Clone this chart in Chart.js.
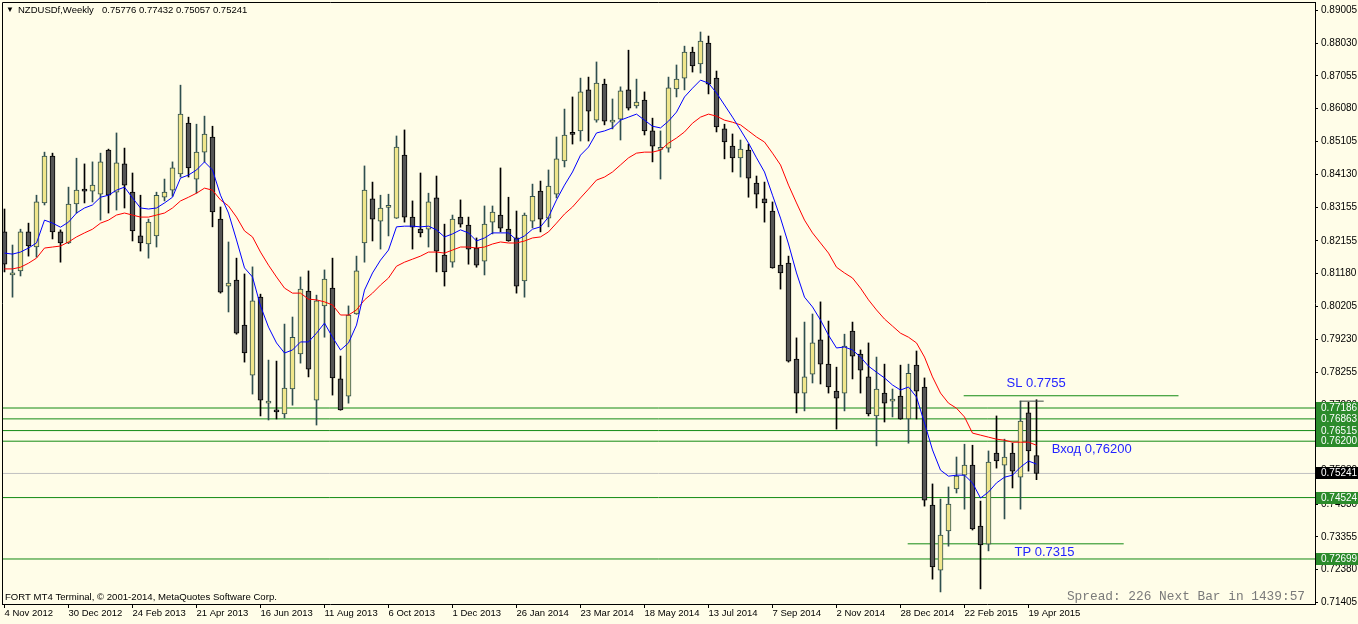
<!DOCTYPE html>
<html>
<head>
<meta charset="utf-8">
<script src="https://cdn.jsdelivr.net/npm/chart.js@4/dist/chart.umd.min.js"></script>
<style>
html, body { margin: 0; padding: 0; background: #FFFDE8; }
#box { width: 1358px; height: 624px; }
</style>
</head>
<body>
<div id="box"><canvas id="chart" width="1358" height="624"></canvas></div>
<script>
// NZDUSDf weekly, 4 Nov 2012 .. 26 Apr 2015 (130 bars)
var opens = [0.8242,0.8114,0.8126,0.8242,0.8197,0.8328,0.8467,0.8242,0.8209,0.8325,
 0.8366,0.8363,0.8354,0.8485,0.8360,0.8444,0.8360,0.8230,0.8206,0.8230,
 0.8345,0.8366,0.8414,0.8565,0.8399,0.8479,0.8524,0.8280,0.8081,0.8099,
 0.7965,0.7816,0.8048,0.7733,0.7710,0.7701,0.7775,0.7879,0.8066,0.7742,
 0.8022,0.8075,0.7805,0.7754,0.7998,0.8209,0.8340,0.8274,0.8315,0.8283,
 0.8470,0.8286,0.8250,0.8250,0.8343,0.8173,0.8152,0.8286,0.8262,0.8194,
 0.8155,0.8271,0.8292,0.8250,0.8224,0.8096,0.8274,0.8363,0.8283,0.8354,
 0.8453,0.8534,0.8542,0.8664,0.8574,0.8681,0.8568,0.8577,0.8664,0.8616,
 0.8634,0.8542,0.8487,0.8491,0.8667,0.8699,0.8776,0.8741,0.8803,0.8699,
 0.8548,0.8497,0.8462,0.8485,0.8387,0.8340,0.8304,0.8143,0.8149,0.7864,
 0.7763,0.7819,0.7921,0.7849,0.7769,0.7763,0.7947,0.7879,0.7811,0.7695,
 0.7763,0.7739,0.7754,0.7686,0.7846,0.7781,0.7430,0.7237,0.7353,0.7478,
 0.7519,0.7549,0.7368,0.7314,0.7585,0.7549,0.7585,0.7513,0.7704,0.75776];
var highs = [0.8310,0.8203,0.8250,0.8268,0.8351,0.8479,0.8476,0.8248,0.8375,0.8461,
 0.8444,0.8450,0.8476,0.8488,0.8536,0.8491,0.8417,0.8351,0.8280,0.8360,
 0.8399,0.8450,0.8678,0.8583,0.8562,0.8586,0.8556,0.8316,0.8212,0.8164,
 0.8117,0.8138,0.8057,0.7861,0.7858,0.7968,0.7989,0.8108,0.8126,0.8054,
 0.8129,0.8164,0.7873,0.8022,0.8170,0.8438,0.8390,0.8351,0.8354,0.8527,
 0.8545,0.8334,0.8417,0.8357,0.8408,0.8265,0.8292,0.8337,0.8286,0.8224,
 0.8319,0.8319,0.8432,0.8345,0.8304,0.8298,0.8384,0.8393,0.8426,0.8524,
 0.8607,0.8643,0.8699,0.8702,0.8747,0.8696,0.8637,0.8673,0.8782,0.8696,
 0.8658,0.8580,0.8542,0.8702,0.8738,0.8794,0.8791,0.8836,0.8824,0.8720,
 0.8562,0.8533,0.8515,0.8503,0.8408,0.8390,0.8331,0.8230,0.8170,0.7927,
 0.7974,0.7998,0.8034,0.7977,0.7840,0.7938,0.7974,0.7891,0.7912,0.7870,
 0.7849,0.7775,0.7846,0.7849,0.7888,0.7808,0.7493,0.7448,0.7484,0.7573,
 0.7611,0.7608,0.7442,0.7591,0.7695,0.7626,0.7614,0.7739,0.7736,0.77432];
var lows = [0.8123,0.8048,0.8111,0.8170,0.8167,0.8322,0.8221,0.8152,0.8207,0.8298,
 0.8328,0.8331,0.8277,0.8298,0.8307,0.8313,0.8215,0.8185,0.8164,0.8197,
 0.8334,0.8348,0.8405,0.8405,0.8357,0.8450,0.8257,0.8060,0.8004,0.7938,
 0.7855,0.7760,0.7695,0.7683,0.7686,0.7689,0.7727,0.7852,0.7811,0.7668,
 0.7929,0.7757,0.7712,0.7733,0.7997,0.8152,0.8215,0.8191,0.8230,0.8282,
 0.8271,0.8191,0.8227,0.8197,0.8123,0.8081,0.8137,0.8256,0.8146,0.8137,
 0.8114,0.8236,0.8242,0.8214,0.8060,0.8048,0.8254,0.8242,0.8257,0.8343,
 0.8435,0.8503,0.8512,0.8512,0.8568,0.8560,0.8548,0.8515,0.8604,0.8610,
 0.8530,0.8450,0.8399,0.8479,0.8643,0.8664,0.8717,0.8714,0.8652,0.8539,
 0.8459,0.8420,0.8405,0.8345,0.8313,0.8271,0.8134,0.8072,0.7855,0.7704,
 0.7710,0.7793,0.7790,0.7763,0.7656,0.7710,0.7805,0.7763,0.7695,0.7606,
 0.7677,0.7692,0.7685,0.7614,0.7686,0.7427,0.7210,0.7172,0.7308,0.7466,
 0.7418,0.7356,0.7181,0.7294,0.7540,0.7389,0.7481,0.7418,0.7531,0.75057];
var closes = [0.8146,0.8120,0.8242,0.8200,0.8331,0.8467,0.8242,0.8209,0.8325,0.8366,
 0.8363,0.8381,0.8450,0.8351,0.8447,0.8381,0.8245,0.8209,0.8271,0.8351,
 0.8360,0.8432,0.8592,0.8432,0.8479,0.8533,0.8301,0.8063,0.8090,0.7941,
 0.7882,0.8037,0.7742,0.7739,0.7707,0.7778,0.7929,0.8072,0.7834,0.8037,
 0.8102,0.7808,0.7713,0.7995,0.8126,0.8366,0.8280,0.8313,0.8316,0.8494,
 0.8286,0.8256,0.8239,0.8331,0.8185,0.8123,0.8280,0.8265,0.8191,0.8143,
 0.8265,0.8301,0.8253,0.8215,0.8081,0.8292,0.8348,0.8280,0.8378,0.8459,
 0.8530,0.8532,0.8658,0.8601,0.8684,0.8571,0.8574,0.8661,0.8610,0.8628,
 0.8542,0.8497,0.8488,0.8670,0.8696,0.8776,0.8735,0.8809,0.8681,0.8554,
 0.8509,0.8462,0.8488,0.8402,0.8354,0.8328,0.8135,0.8120,0.7858,0.7763,
 0.7811,0.7912,0.7849,0.7781,0.7748,0.7903,0.7873,0.7831,0.7701,0.7775,
 0.7733,0.7740,0.7686,0.7822,0.7769,0.7445,0.7246,0.7341,0.7433,0.7516,
 0.7549,0.7359,0.7312,0.7558,0.7561,0.7573,0.7531,0.7680,0.7591,0.75241];

// moving averages (blue = fast, red = slow)
var maFast = [0.8179,0.8176,0.8182,0.8194,0.8209,0.8277,0.8268,0.8256,0.8271,0.8298,
 0.8313,0.8322,0.8345,0.8351,0.8366,0.8375,0.8343,0.8313,0.8310,0.8313,
 0.8328,0.8345,0.8402,0.8411,0.8426,0.8450,0.8426,0.8351,0.8298,0.8218,
 0.8135,0.8108,0.8022,0.7959,0.7912,0.7882,0.7891,0.7915,0.7915,0.7941,
 0.7971,0.7929,0.7891,0.7912,0.7965,0.8069,0.8120,0.8158,0.8188,0.8257,
 0.8259,0.8259,0.8257,0.8259,0.8248,0.8227,0.8236,0.8248,0.8239,0.8215,
 0.8224,0.8239,0.8239,0.8239,0.8218,0.8230,0.8250,0.8257,0.8286,0.8337,
 0.8381,0.8420,0.8470,0.8494,0.8536,0.8542,0.8551,0.8574,0.8583,0.8592,
 0.8574,0.8556,0.8551,0.8571,0.8598,0.8643,0.8669,0.8693,0.8684,0.8655,
 0.8619,0.8583,0.8545,0.8506,0.8462,0.8420,0.8351,0.8283,0.8206,0.8120,
 0.8048,0.8019,0.7980,0.7935,0.7897,0.7900,0.7891,0.7870,0.7843,0.7825,
 0.7808,0.7787,0.7772,0.7781,0.7751,0.7674,0.7594,0.7534,0.7516,0.7519,
 0.7519,0.7496,0.7451,0.7469,0.7496,0.7513,0.7519,0.7543,0.7561,0.7552];
var maSlow = [0.8132,0.8132,0.8137,0.8149,0.8164,0.8194,0.8197,0.8200,0.8212,0.8227,
 0.8239,0.8250,0.8268,0.8277,0.8292,0.8298,0.8292,0.8286,0.8286,0.8292,
 0.8298,0.8313,0.8334,0.8345,0.8357,0.8372,0.8366,0.8337,0.8319,0.8286,
 0.8245,0.8227,0.8182,0.8143,0.8108,0.8075,0.8060,0.8060,0.8042,0.8040,
 0.8034,0.8025,0.7995,0.7995,0.8010,0.8040,0.8060,0.8084,0.8105,0.8140,
 0.8152,0.8161,0.8170,0.8182,0.8182,0.8179,0.8188,0.8197,0.8197,0.8194,
 0.8197,0.8206,0.8212,0.8209,0.8209,0.8215,0.8224,0.8227,0.8242,0.8268,
 0.8295,0.8316,0.8343,0.8369,0.8396,0.8405,0.8420,0.8441,0.8462,0.8476,
 0.8479,0.8479,0.8485,0.8506,0.8521,0.8539,0.8565,0.8583,0.8592,0.8586,
 0.8574,0.8568,0.8560,0.8542,0.8524,0.8509,0.8476,0.8441,0.8381,0.8328,
 0.8277,0.8239,0.8209,0.8179,0.8137,0.8120,0.8105,0.8075,0.8040,0.8010,
 0.7983,0.7962,0.7941,0.7929,0.7912,0.7870,0.7811,0.7763,0.7733,0.7718,
 0.7692,0.7644,0.7638,0.7632,0.7626,0.7623,0.7617,0.7617,0.7617,0.7608];

var dateTickIdx = [0,8,16,24,32,40,48,56,64,72,80,88,96,104,112,120,128];
var dateLabels = ['4 Nov 2012','30 Dec 2012','24 Feb 2013','21 Apr 2013','16 Jun 2013','11 Aug 2013',
 '6 Oct 2013','1 Dec 2013','26 Jan 2014','23 Mar 2014','18 May 2014','13 Jul 2014','7 Sep 2014',
 '2 Nov 2014','28 Dec 2014','22 Feb 2015','19 Apr 2015'];
var priceTicks = [0.71405,0.72380,0.73355,0.74330,0.75330,0.76305,0.77280,0.78255,0.79230,0.80205,
 0.81180,0.82155,0.83155,0.84130,0.85105,0.86080,0.87055,0.88030,0.89005];
var priceTickLabels = ['0.71405','0.72380','0.73355','0.74330','0.75330','0.76305','0.77280','0.78255','0.79230','0.80205',
 '0.81180','0.82155','0.83155','0.84130','0.85105','0.86080','0.87055','0.88030','0.89005'];

var levelPrices = [0.77186,0.76863,0.76515,0.76200,0.74524,0.72699];
var levelLabels = ['0.77186','0.76863','0.76515','0.76200','0.74524','0.72699'];
var bidPrice = 0.75241, bidLabel = '0.75241';
var slPrice = 0.7755, tpPrice = 0.7315, entryPrice = 0.762;
var slRange = [119.9, 146.75], tpRange = [112.9, 139.9];
var highMarkPrice = 0.7739, highMarkRange = [126.9, 129.9];

var bgColor = '#FFFDE8';
var lineGreen = '#138A13';
var boxGreen = '#2B8B2B';
var textBlue = '#2323FF';
var uiFont = "'Liberation Sans', Arial, sans-serif";

var wickData = [], bodyData = [], wickColors = [], bodyFill = [], bodyBorder = [];
for (var i = 0; i < opens.length; i++) {
	var up = closes[i] >= opens[i];
	wickData.push({x: i, y: [lows[i], highs[i]]});
	bodyData.push({x: i, y: [opens[i], closes[i]]});
	wickColors.push(up ? '#2F4F4F' : '#000000');
	bodyFill.push(up ? '#F0E68C' : '#555555');
	bodyBorder.push(up ? '#2F4F4F' : '#000000');
}

function hLine(y, x0, x1, color, order) {
	return {
		type: 'line', data: [{x: x0, y: y}, {x: x1, y: y}],
		borderColor: color, borderWidth: 1, pointRadius: 0, order: order
	};
}

var datasets = [];
datasets.push({type: 'line', data: maFast.map(function(v, k) { return {x: k, y: v}; }),
	borderColor: '#0000FF', borderWidth: 1, pointRadius: 0, tension: 0, order: 1});
datasets.push({type: 'line', data: maSlow.map(function(v, k) { return {x: k, y: v}; }),
	borderColor: '#FF0000', borderWidth: 1, pointRadius: 0, tension: 0, order: 2});
datasets.push({type: 'bar', data: bodyData, backgroundColor: bodyFill, borderColor: bodyBorder,
	borderWidth: 1, borderSkipped: false, barThickness: 5, minBarLength: 2, grouped: false, order: 4});
datasets.push({type: 'bar', data: wickData, backgroundColor: wickColors, borderWidth: 0,
	barThickness: 1, grouped: false, order: 5});
levelPrices.forEach(function(p) { datasets.push(hLine(p, -5, 200, lineGreen, 10)); });
datasets.push(hLine(bidPrice, -5, 200, '#C0C0C0', 11));
datasets.push(hLine(slPrice, slRange[0], slRange[1], lineGreen, 10));
datasets.push(hLine(tpPrice, tpRange[0], tpRange[1], lineGreen, 10));
datasets.push(hLine(highMarkPrice, highMarkRange[0], highMarkRange[1], '#3A4A44', 3));

var bgPlugin = {
	id: 'bg',
	beforeDraw: function(chart) {
		var ctx = chart.ctx;
		ctx.save();
		ctx.fillStyle = bgColor;
		ctx.fillRect(0, 0, chart.width, chart.height);
		ctx.restore();
	}
};

var overlayPlugin = {
	id: 'overlay',
	afterDraw: function(chart) {
		var ctx = chart.ctx, a = chart.chartArea, xs = chart.scales.x, ys = chart.scales.y;
		ctx.save();
		// frame top / left
		ctx.strokeStyle = '#000';
		ctx.lineWidth = 1;
		ctx.beginPath();
		ctx.moveTo(a.left + 0.5, a.bottom);
		ctx.lineTo(a.left + 0.5, a.top + 0.5);
		ctx.lineTo(a.right, a.top + 0.5);
		ctx.stroke();

		// price boxes on the right axis
		ctx.font = '10px ' + uiFont;
		ctx.textBaseline = 'middle';
		ctx.textAlign = 'left';
		levelPrices.forEach(function(p, k) {
			var y = Math.round(ys.getPixelForValue(p));
			ctx.fillStyle = boxGreen;
			ctx.fillRect(a.right + 1, y - 6, chart.width - a.right - 1, 12);
			ctx.fillStyle = '#FFFFFF';
			ctx.fillText(levelLabels[k], a.right + 6, y + 0.5);
		});
		var yb = Math.round(ys.getPixelForValue(bidPrice));
		ctx.fillStyle = '#000';
		ctx.fillRect(a.right + 1, yb - 6, chart.width - a.right - 1, 12);
		ctx.fillStyle = '#FFFFFF';
		ctx.fillText(bidLabel, a.right + 6, yb + 0.5);

		// SL / entry / TP captions
		ctx.font = '13px ' + uiFont;
		ctx.fillStyle = textBlue;
		ctx.fillText('SL 0.7755', xs.getPixelForValue(125.25), ys.getPixelForValue(slPrice) - 12);
		ctx.fillText('Вход 0,76200', xs.getPixelForValue(130.9), ys.getPixelForValue(entryPrice) + 8);
		ctx.fillText('TP 0.7315', xs.getPixelForValue(126.25), ys.getPixelForValue(tpPrice) + 9);

		// header
		ctx.fillStyle = '#000';
		ctx.font = '8px ' + uiFont;
		ctx.fillText('▼', 6, 10);
		ctx.font = '9.5px ' + uiFont;
		ctx.fillText('NZDUSDf,Weekly', 18, 10);
		ctx.fillText('0.75776 0.77432 0.75057 0.75241', 102, 10);

		// footer texts
		ctx.font = '9.6px ' + uiFont;
		ctx.fillText('FORT MT4 Terminal, \u00A9 2001-2014, MetaQuotes Software Corp.', 5, 597);
		ctx.font = "12.8px 'Liberation Mono', 'Courier New', monospace";
		ctx.fillStyle = '#7A7A7A';
		ctx.textAlign = 'right';
		ctx.fillText('Spread: 226 Next Bar in 1439:57', a.right - 10, 597);
		ctx.restore();
	}
};

Chart.defaults.font.family = uiFont;
Chart.defaults.font.size = 10;
Chart.defaults.color = '#000';

var ctx = document.getElementById('chart');
var myChart = new Chart(ctx, {
	type: 'bar',
	data: {datasets: datasets},
	options: {
		responsive: false,
		devicePixelRatio: 1,
		animation: false,
		layout: {padding: {left: 2, top: 2, right: 0, bottom: 0}},
		plugins: {legend: {display: false}, tooltip: {enabled: false}},
		scales: {
			x: {
				type: 'linear', offset: false,
				min: -0.3125, max: 163.8125,
				afterBuildTicks: function(s) {
					s.ticks = dateTickIdx.map(function(v) { return {value: v}; });
				},
				afterFit: function(s) {
					s.height = 20;
					s.paddingLeft = 0; s.paddingRight = 0;
				},
				grid: {drawOnChartArea: false, tickLength: 4, color: '#000', offset: false},
				border: {display: true, color: '#000'},
				ticks: {
					autoSkip: false, maxRotation: 0, minRotation: 0, align: 'start', padding: 0,
					font: {size: 9.5},
					callback: function(v, idx) { return dateLabels[idx]; }
				}
			},
			y: {
				position: 'right',
				min: 0.713617, max: 0.892517,
				afterBuildTicks: function(s) {
					s.ticks = priceTicks.map(function(v) { return {value: v}; });
				},
				afterFit: function(s) {
					s.width = 43;
					s.paddingTop = 0; s.paddingBottom = 0;
				},
				grid: {drawOnChartArea: false, tickLength: 3, color: '#000'},
				border: {display: true, color: '#000'},
				ticks: {
					padding: 3,
					callback: function(v, idx) { return priceTickLabels[idx]; }
				}
			}
		}
	},
	plugins: [bgPlugin, overlayPlugin]
});
</script>
</body>
</html>
